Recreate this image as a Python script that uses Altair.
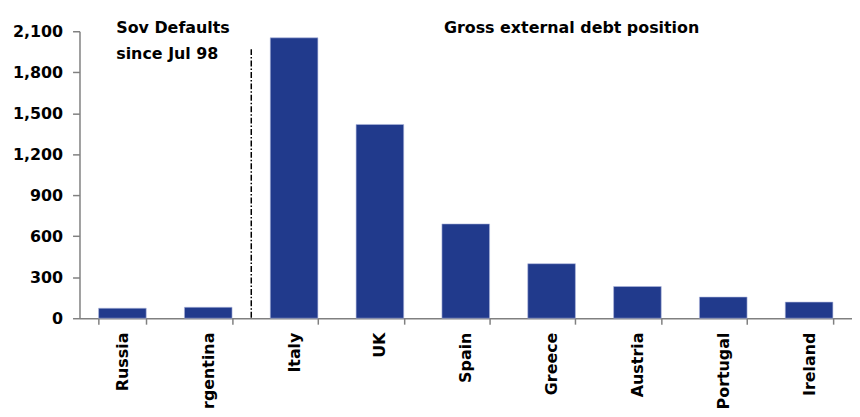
import altair as alt
import pandas as pd

categories = ["Russia", "Argentina", "Italy", "UK", "Spain", "Greece", "Austria", "Portugal", "Ireland"]
values = [73, 80, 2052, 1418, 690, 399, 232, 155, 118]
y_ticks = [0, 300, 600, 900, 1200, 1500, 1800, 2100]
left_note = "Sov Defaults\nsince Jul 98"
right_note = "Gross external debt position"

df = pd.DataFrame({"country": categories, "value": values})
one = pd.DataFrame({"k": [0]})

W, H = 778, 289
FONT = "DejaVu Sans"

x_enc = alt.X(
    "country:N",
    sort=categories,
    scale=alt.Scale(paddingInner=0.445, paddingOuter=0.2225),
    axis=alt.Axis(
        title=None, labelAngle=-90, labelAlign="right", labelBaseline="middle",
        labelFont=FONT, labelFontWeight="bold", labelFontSize=16, labelColor="#000000",
        labelPadding=8, tickSize=6, tickBand="extent", tickColor="#808080",
        domainColor="#808080", domainWidth=1.5, tickWidth=1.5, grid=False,
    ),
)
y_enc = alt.Y(
    "value:Q",
    scale=alt.Scale(domain=[0, 2100], nice=False),
    axis=alt.Axis(
        title=None, values=y_ticks, format=",d", labelFont=FONT, labelFontWeight="bold",
        labelFontSize=16, labelColor="#000000", labelPadding=10, tickSize=7,
        tickColor="#808080", domainColor="#808080", domainWidth=1.5, tickWidth=1.5,
        grid=False,
    ),
)

bars = alt.Chart(df).mark_bar(color="#213a8c", stroke="#b0b8de", strokeWidth=0.6).encode(
    x=x_enc, y=y_enc
)

divider = alt.Chart(one).mark_rule(
    color="#000000", strokeWidth=1.5, strokeDash=[6, 2, 1.5, 2]
).encode(x=alt.value(173), y=alt.value(18), y2=alt.value(H))

note_left = alt.Chart(one).mark_text(
    text=left_note, lineBreak="\n", lineHeight=26, align="left", baseline="alphabetic",
    font=FONT, fontWeight="bold", fontSize=16, color="#000000",
).encode(x=alt.value(37), y=alt.value(2))

note_right = alt.Chart(one).mark_text(
    text=right_note, align="left", baseline="alphabetic",
    font=FONT, fontWeight="bold", fontSize=16, color="#000000",
).encode(x=alt.value(367), y=alt.value(2))

chart = (
    alt.layer(bars, divider, note_left, note_right)
    .properties(
        width=W, height=H,
        autosize=alt.AutoSizeParams(type="none"),
        padding={"left": 72, "top": 22, "right": 0, "bottom": 90},
    )
    .configure_view(strokeWidth=0)
)

chart.save("out.html", embed_options={"renderer": "svg", "actions": False})
